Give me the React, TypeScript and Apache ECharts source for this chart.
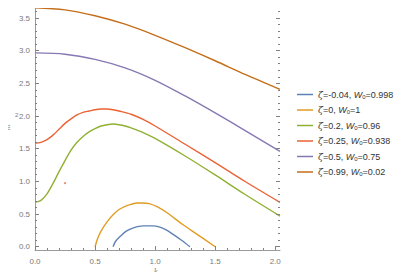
import React, { useEffect, useRef } from "react";
import * as echarts from "echarts";

const kBlue = [0.65, 0.67, 0.71, 0.76, 0.82, 0.9, 0.98, 1.04, 1.1, 1.15, 1.22, 1.29];
const vBlue = [0.0, 0.08, 0.16, 0.24, 0.29, 0.32, 0.32, 0.3, 0.25, 0.19, 0.1, 0.0];

const kYellow = [0.5, 0.52, 0.55, 0.6, 0.65, 0.7, 0.75, 0.8, 0.85, 0.9, 0.95, 1.02, 1.1, 1.23, 1.35, 1.5];
const vYellow = [0.0, 0.12, 0.24, 0.38, 0.49, 0.57, 0.62, 0.65, 0.67, 0.67, 0.66, 0.61, 0.52, 0.34, 0.19, 0.0];

const kGreen = [0, 0.05, 0.1, 0.15, 0.2, 0.25, 0.3, 0.35, 0.4, 0.45, 0.5, 0.55, 0.6, 0.65, 0.7, 0.75, 0.8, 0.9, 1.0, 1.25, 1.5, 1.75, 2.04];
const vGreen = [0.68, 0.71, 0.81, 0.97, 1.15, 1.32, 1.48, 1.6, 1.69, 1.76, 1.81, 1.85, 1.87, 1.88, 1.87, 1.85, 1.82, 1.75, 1.66, 1.39, 1.1, 0.8, 0.47];

const kRed = [0, 0.05, 0.1, 0.15, 0.2, 0.25, 0.3, 0.35, 0.4, 0.45, 0.5, 0.55, 0.6, 0.65, 0.7, 0.8, 0.9, 1.0, 1.25, 1.5, 1.75, 2.04];
const vRed = [1.59, 1.6, 1.64, 1.71, 1.8, 1.89, 1.96, 2.02, 2.06, 2.08, 2.1, 2.11, 2.11, 2.1, 2.08, 2.03, 1.95, 1.85, 1.57, 1.29, 1.0, 0.68];

const kPurple = [0, 0.25, 0.5, 0.75, 1.0, 1.25, 1.5, 1.75, 2.04];
const vPurple = [2.97, 2.95, 2.87, 2.74, 2.55, 2.31, 2.05, 1.78, 1.46];

const kOrange = [0, 0.25, 0.5, 0.75, 1.0, 1.25, 1.5, 1.75, 2.04];
const vOrange = [3.66, 3.63, 3.54, 3.41, 3.24, 3.05, 2.85, 2.64, 2.41];

const strayPoint = [[0.25, 0.976]];

const zetas = ["-0.04", "0", "0.2", "0.25", "0.5", "0.99"];
const w0s = ["0.998", "1", "0.96", "0.938", "0.75", "0.02"];
const colors = ["#5E81B5", "#E19C24", "#8FB032", "#EB6235", "#8778B3", "#C56E1A"];

const xMajor = [0, 0.5, 1.0, 1.5, 2.0];
const xMinor = [0.1, 0.2, 0.3, 0.4, 0.6, 0.7, 0.8, 0.9, 1.1, 1.2, 1.3, 1.4, 1.6, 1.7, 1.8, 1.9];
const yMajor = [0, 0.5, 1.0, 1.5, 2.0, 2.5, 3.0, 3.5];
const yMinor = [
  0.1, 0.2, 0.3, 0.4, 0.6, 0.7, 0.8, 0.9, 1.1, 1.2, 1.3, 1.4, 1.6, 1.7, 1.8, 1.9,
  2.1, 2.2, 2.3, 2.4, 2.6, 2.7, 2.8, 2.9, 3.1, 3.2, 3.3, 3.4, 3.6, 3.7,
];

const X_MIN = 0;
const X_MAX = 2.04;
const Y_MIN = -0.05;
const Y_MAX = 3.75;

const zip = (k: number[], v: number[]) => k.map((x, i) => [x, v[i]]);

export default function App() {
  const ref = useRef<HTMLDivElement>(null);
  useEffect(() => {
    if (!ref.current) return;
    const chart = echarts.init(ref.current, undefined, { renderer: "svg" });
    const allData = [
      zip(kBlue, vBlue),
      zip(kYellow, vYellow),
      zip(kGreen, vGreen),
      zip(kRed, vRed),
      zip(kPurple, vPurple),
      zip(kOrange, vOrange),
    ];
    const names = zetas.map((z, i) => `ζ=${z}, W0=${w0s[i]}`);
    const frameColor = "#9a9a9a";
    const tickColor = "#808080";
    const labelStyle = { color: "#7a7a7a", fontSize: 8, fontFamily: "Liberation Sans" };
    const mkY = (pos: "left" | "right", labels: boolean) => ({
      type: "value",
      position: pos,
      min: Y_MIN,
      max: Y_MAX,
      axisLine: { show: true, lineStyle: { color: frameColor, width: 1 } },
      axisTick: { show: false },
      axisLabel: labels
        ? { show: true, customValues: yMajor, formatter: (v: number) => v.toFixed(1), margin: 5, ...labelStyle }
        : { show: false },
      splitLine: { show: false },
    });
    const mkX = (pos: "bottom" | "top", labels: boolean) => ({
      type: "value",
      position: pos,
      min: X_MIN,
      max: X_MAX,
      axisLine: { show: true, onZero: false, lineStyle: { color: frameColor, width: 1 } },
      axisTick: { show: false },
      axisLabel: labels
        ? { show: true, customValues: xMajor, formatter: (v: number) => v.toFixed(1), margin: 7, ...labelStyle }
        : { show: false },
      splitLine: { show: false },
    });
    const textGraphics = [
      {
        type: "text",
        x: 154,
        y: 267,
        style: { text: "k", fontSize: 8, fontStyle: "italic", fill: "#777777", fontFamily: "Liberation Serif" },
      },
      {
        type: "text",
        x: 3,
        y: 130,
        rotation: Math.PI / 2,
        style: { text: "m", fontSize: 8, fontStyle: "italic", fill: "#777777", fontFamily: "Liberation Serif" },
      },
      {
        type: "text",
        x: 15,
        y: 112,
        style: { text: "2", fontSize: 6, fill: "#777777", fontFamily: "Liberation Sans" },
      },
    ];
    chart.setOption({
      animation: false,
      backgroundColor: "#ffffff",
      grid: { left: 35, right: 129, top: 2, bottom: 30, containLabel: false },
      xAxis: [mkX("bottom", true), mkX("top", false)],
      yAxis: [mkY("left", true), mkY("right", false)],
      legend: {
        orient: "vertical",
        left: 292,
        top: 85,
        itemWidth: 16,
        itemHeight: 1.5,
        itemGap: 6,
        icon: "rect",
        data: names,
        formatter: (name: string) => {
          const i = names.indexOf(name);
          return `{z|ζ}=${zetas[i]}, {w|W}{s|0}=${w0s[i]}`;
        },
        textStyle: {
          color: "#333333",
          fontSize: 9,
          fontFamily: "Liberation Sans",
          rich: {
            z: { fontStyle: "italic", fontSize: 9, color: "#333333", fontFamily: "DejaVu Serif" },
            w: { fontStyle: "italic", fontSize: 9, color: "#333333", fontFamily: "Liberation Sans" },
            s: { fontSize: 6, color: "#333333", fontFamily: "Liberation Sans", padding: [4, 0, 0, 0] },
          },
        },
      },
      graphic: textGraphics,
      series: [
        ...allData.map((d, i) => ({
          name: names[i],
          type: "line",
          data: d,
          smooth: 0.3,
          showSymbol: false,
          symbol: "none",
          color: colors[i],
          lineStyle: { width: 1.4, color: colors[i] },
        })),
        {
          name: "dot",
          type: "scatter",
          data: strayPoint,
          symbolSize: 2,
          itemStyle: { color: "#EB6235" },
        },
      ],
    });

    // frame ticks, positioned through the chart's own scales
    const snap = (v: number) => Math.round(v - 0.5) + 0.5;
    const ticks: any[] = [];
    const addLine = (x1: number, y1: number, x2: number, y2: number) =>
      ticks.push({
        type: "line",
        silent: true,
        z: 50,
        shape: { x1, y1, x2, y2 },
        style: { stroke: tickColor, lineWidth: 1 },
      });
    const toPx = (x: number, y: number) => chart.convertToPixel({ gridIndex: 0 }, [x, y]) as number[];
    [...xMajor.map((v) => [v, 4]), ...xMinor.map((v) => [v, 2])].forEach(([v, len]) => {
      const b = toPx(v, Y_MIN);
      const t = toPx(v, Y_MAX);
      const x = snap(b[0]);
      addLine(x, b[1], x, b[1] - len);
      addLine(x, t[1], x, t[1] + len);
    });
    [...yMajor.map((v) => [v, 4]), ...yMinor.map((v) => [v, 2])].forEach(([v, len]) => {
      const l = toPx(X_MIN, v);
      const r = toPx(X_MAX, v);
      const y = snap(l[1]);
      addLine(l[0], y, l[0] + len, y);
      addLine(r[0], y, r[0] - len, y);
    });
    chart.setOption({ graphic: [...textGraphics, ...ticks] }, { replaceMerge: ["graphic"] });
    return () => chart.dispose();
  }, []);
  return <div ref={ref} style={{ width: 409, height: 280, margin: -8 }} />;
}
